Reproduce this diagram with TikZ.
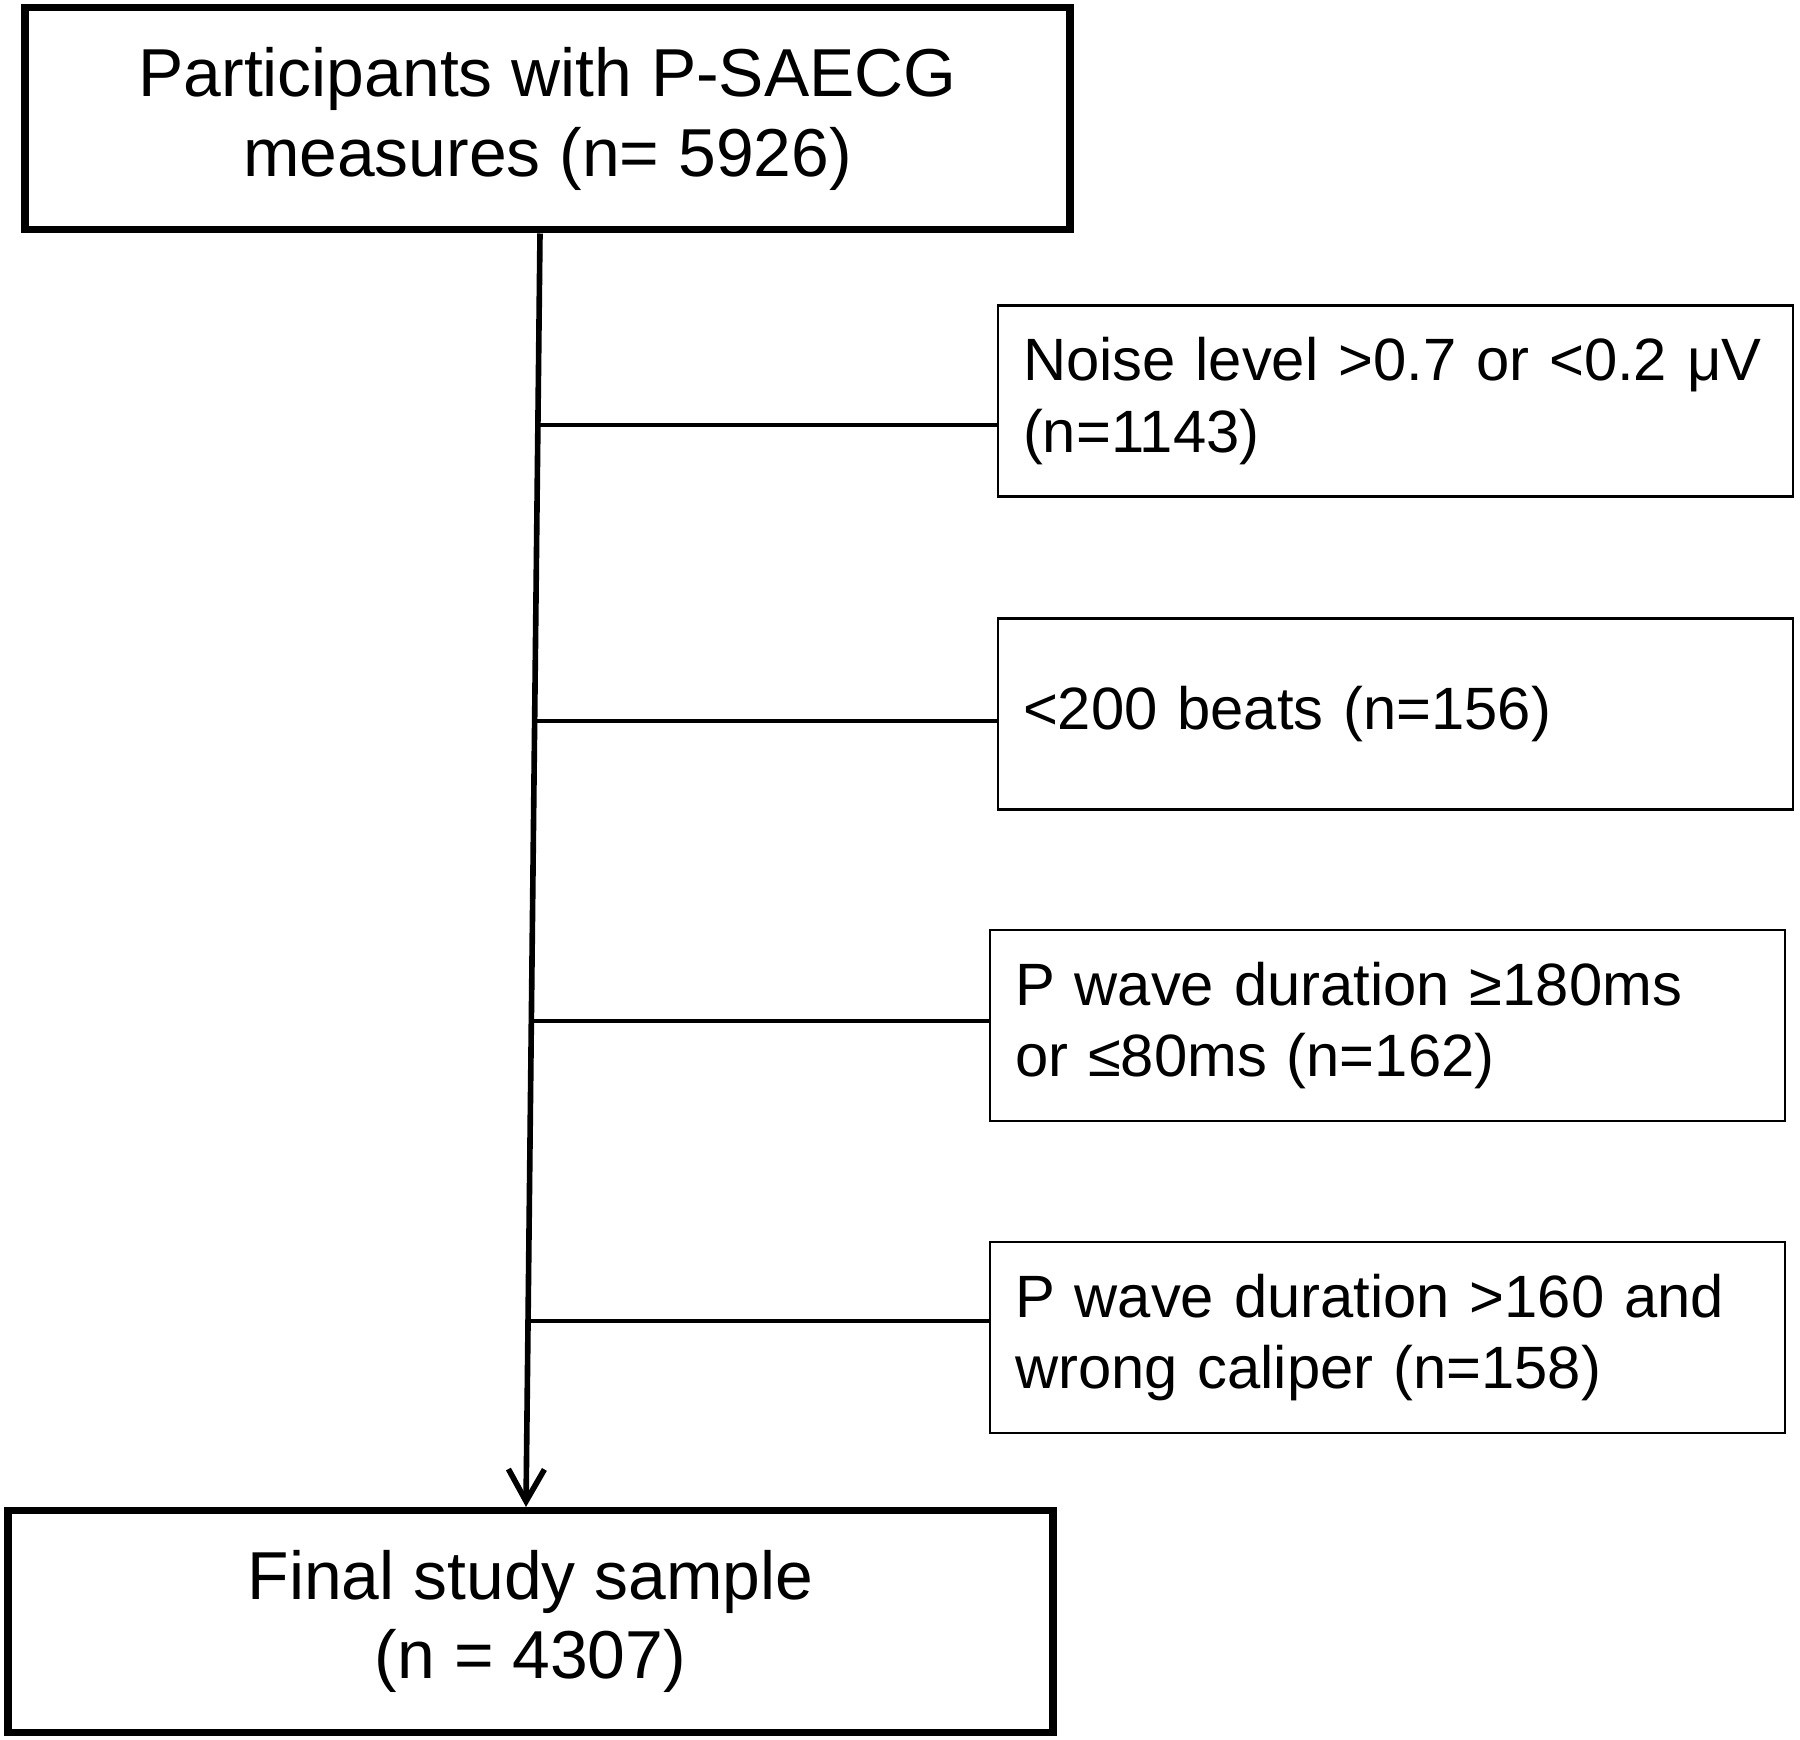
\documentclass[tikz,border=0pt]{standalone}
\usepackage{fontspec}
\setmainfont{Liberation Sans}
\usetikzlibrary{arrows.meta}

\begin{document}
\begin{tikzpicture}[
    mainbox/.style={draw, line width=2pt, minimum width=10.45cm, minimum height=2.22cm,
        align=center, font=\fontsize{19.3}{22.7}\selectfont},
    exclbox/.style={draw, line width=0.8pt, minimum height=1.91cm, text width=7.45cm,
        inner xsep=0.25cm, align=left, font=\fontsize{17}{20.4}\selectfont}]
    \useasboundingbox (0,0) rectangle (18,17.4);

    % Draw the start and end boxes
    \node[mainbox] (start) at (5.475,16.21) {Participants with P-SAECG\\measures (n= 5926)};
    \node[mainbox] (final) at (5.305,1.185) {Final study sample\\(n = 4307)};

    % Exclusion boxes
    \node[exclbox] (noise) at (13.955,13.39) {Noise level >0.7 or <0.2 μV\\(n=1143)};
    \node[exclbox] (beats) at (13.955,10.26) {<200 beats (n=156)};
    \node[exclbox] (pwave) at (13.875,7.145) {P wave duration ≥180ms\\or ≤80ms (n=162)};
    \node[exclbox] (caliper) at (13.875,4.025) {P wave duration >160 and\\wrong caliper (n=158)};

    % Main flow arrow
    \draw[line width=1.6pt, -{Straight Barb[length=0.32cm, width=0.36cm]}]
        ([xshift=-0.075cm]start.south) -- ([xshift=-0.045cm]final.north);

    % Branches to the exclusions
    \foreach \excl/\y/\x in {noise/13.15/5.39, beats/10.19/5.36, pwave/7.19/5.33, caliper/4.19/5.30} {
        \coordinate (\excl-in) at (\x,\y);
        \draw[line width=1.2pt] (\excl-in) -- (\excl-in -| \excl.west);
    }
\end{tikzpicture}
\end{document}
